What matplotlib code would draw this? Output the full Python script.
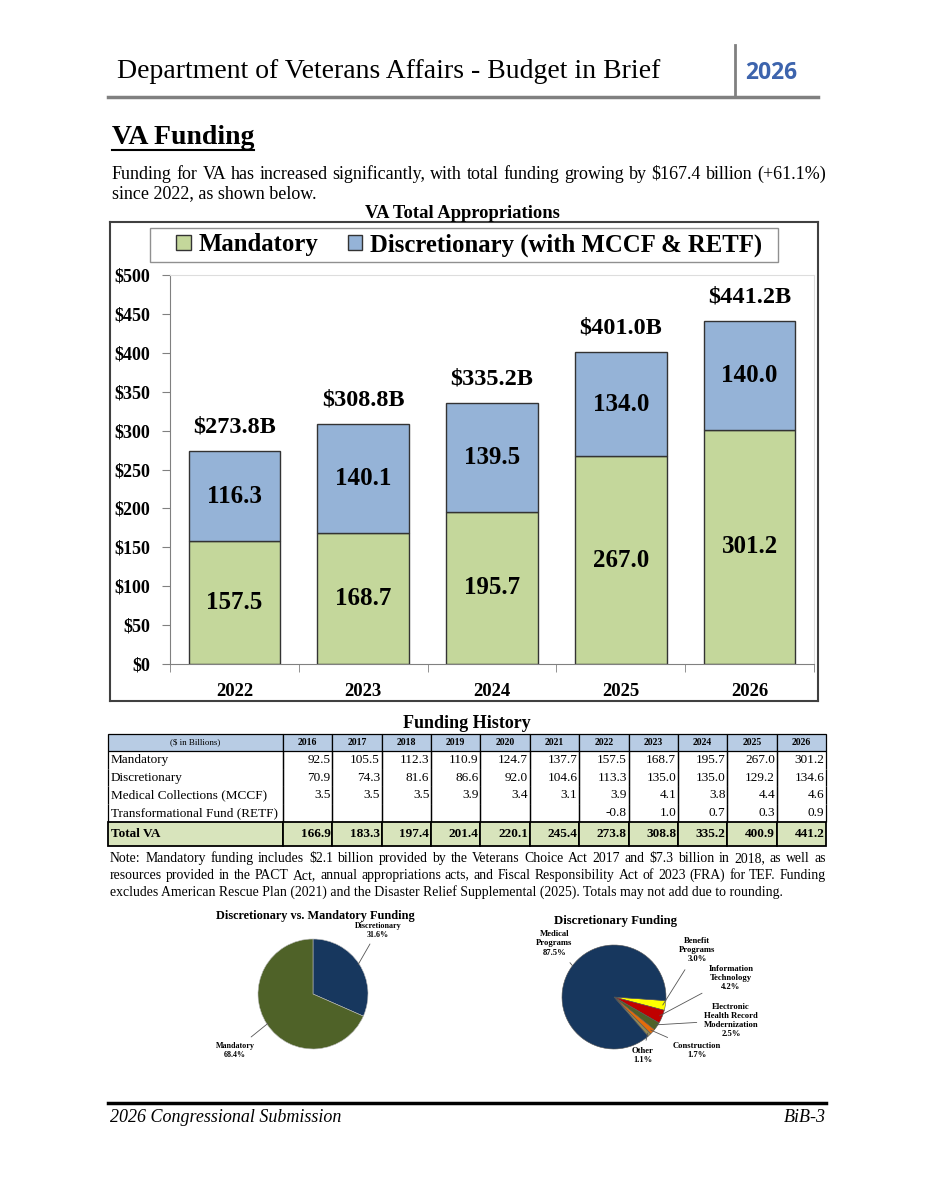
import numpy as np
import matplotlib
matplotlib.use("Agg")
import matplotlib.pyplot as plt
from matplotlib.lines import Line2D
from matplotlib.patches import Rectangle

plt.rcParams['font.family'] = ['Liberation Serif', 'DejaVu Serif']

# bar chart data
years = ['2022', '2023', '2024', '2025', '2026']
mandatory = [157.5, 168.7, 195.7, 267.0, 301.2]
discretionary = [116.3, 140.1, 139.5, 134.0, 140.0]
totals = [273.8, 308.8, 335.2, 401.0, 441.2]

# funding history table
hist_years = ['2016', '2017', '2018', '2019', '2020', '2021', '2022', '2023', '2024', '2025', '2026']
hist_mandatory = ['92.5', '105.5', '112.3', '110.9', '124.7', '137.7', '157.5', '168.7', '195.7', '267.0', '301.2']
hist_discretionary = ['70.9', '74.3', '81.6', '86.6', '92.0', '104.6', '113.3', '135.0', '135.0', '129.2', '134.6']
hist_mccf = ['3.5', '3.5', '3.5', '3.9', '3.4', '3.1', '3.9', '4.1', '3.8', '4.4', '4.6']
hist_retf = ['', '', '', '', '', '', '-0.8', '1.0', '0.7', '0.3', '0.9']
hist_total = ['166.9', '183.3', '197.4', '201.4', '220.1', '245.4', '273.8', '308.8', '335.2', '400.9', '441.2']
row_names = ['Mandatory', 'Discretionary', 'Medical Collections (MCCF)', 'Transformational Fund (RETF)', 'Total VA']

# pie data
split_labels = ['Discretionary', 'Mandatory']
split_pct = [31.6, 68.4]
disc_labels = ['Benefit\nPrograms', 'Information\nTechnology', 'Electronic\nHealth Record\nModernization',
               'Construction', 'Other', 'Medical\nPrograms']
disc_pct = [3.0, 4.2, 2.5, 1.7, 1.1, 87.5]

W, H = 935, 1200
fig = plt.figure(figsize=(W / 100, H / 100), dpi=100)
fig.patch.set_facecolor('white')
renderer = fig.canvas.get_renderer()


def box(x0, y0, x1, y1):
    return [x0 / W, 1 - y1 / H, (x1 - x0) / W, (y1 - y0) / H]


def fx(x):
    return x / W


def fy(y):
    return 1 - y / H


def hline(x0, x1, y, **kw):
    fig.add_artist(Line2D([fx(x0), fx(x1)], [fy(y), fy(y)], transform=fig.transFigure, **kw))


def justify(line, x0, x1, y, size):
    # spread the words so the line fills x0..x1, all on one whole-pixel baseline
    words = line.split(' ')
    base = round(y + 0.3 * size * 100 / 72)
    texts = [fig.text(0, 0, w, fontsize=size, va='bottom') for w in words]
    widths = [t.get_window_extent(renderer).width for t in texts]
    gap = (x1 - x0 - sum(widths)) / (len(words) - 1)
    pos = x0
    for t, w, wd in zip(texts, words, widths):
        fp = t.get_fontproperties()
        d = max(renderer.get_text_width_height_descent(w, fp, ismath=False)[2],
                renderer.get_text_width_height_descent('lp', fp, ismath=False)[2])
        t.set_position((fx(pos), fy(base) - d / H))
        pos += wd + gap


# page header
fig.text(fx(117), fy(71), 'Department of Veterans Affairs - Budget in Brief', fontsize=20, va='center')
fig.text(fx(745), fy(73), '2026', fontsize=16.5, va='center', color='#3d64ad',
         family=['Open Sans', 'DejaVu Sans'], fontweight='bold')
hline(108, 818, 97, color='#808080', lw=2.5)
fig.add_artist(Line2D([fx(735), fx(735)], [fy(45), fy(97)], transform=fig.transFigure, color='#808080', lw=2))

t = fig.text(fx(112), fy(137), 'VA Funding', fontsize=20, fontweight='bold', va='center')
bb = t.get_window_extent(renderer)
hline(112, 112 + bb.width, 150, color='black', lw=1.5)

justify('Funding for VA has increased significantly, with total funding growing by $167.4 billion (+61.1%)',
        112, 826, 174, 13)
fig.text(fx(112), fy(194), 'since 2022, as shown below.', fontsize=13, va='center')
fig.text(fx(462), fy(213), 'VA Total Appropriations', fontsize=13.4, fontweight='bold', ha='center', va='center')

# outer chart frame
frame = fig.add_axes(box(110, 222, 818, 701))
frame.set_xticks([])
frame.set_yticks([])
for s in frame.spines.values():
    s.set_linewidth(1.5)
    s.set_color('#404040')
frame.patch.set_alpha(0)

# stacked bars
ax = fig.add_axes(box(170, 275, 814, 664))
x = np.arange(len(years))
b1 = ax.bar(x, mandatory, width=0.71, color='#c4d79b', edgecolor='#333333', lw=1, label='Mandatory')
b2 = ax.bar(x, discretionary, width=0.71, bottom=mandatory, color='#95b3d7', edgecolor='#333333', lw=1,
            label='Discretionary (with MCCF & RETF)')
for i in range(len(years)):
    ax.text(x[i], mandatory[i] / 2, f'{mandatory[i]:.1f}', ha='center', va='center', fontsize=18, fontweight='bold')
    ax.text(x[i], mandatory[i] + discretionary[i] / 2, f'{discretionary[i]:.1f}', ha='center', va='center',
            fontsize=18, fontweight='bold')
    ax.text(x[i], totals[i] + 31, f'${totals[i]:.1f}B', ha='center', va='center', fontsize=17.5, fontweight='bold')

ax.set_xlim(-0.5, len(years) - 0.5)
ax.set_ylim(0, 500)
ax.set_yticks(np.arange(0, 501, 50))
ax.set_yticklabels([f'${v}' for v in range(0, 501, 50)], fontsize=13, fontweight='bold')
ax.set_xticks(x)
ax.set_xticklabels(years, fontsize=13.5, fontweight='bold')
ax.set_xticks(np.arange(-0.5, len(years), 1), minor=True)
ax.tick_params(axis='x', which='major', length=0, pad=14)
ax.tick_params(axis='x', which='minor', length=6, color='#808080', direction='out')
ax.tick_params(axis='y', length=6, color='#808080', pad=8)
for s in ['left', 'bottom']:
    ax.spines[s].set_color('#808080')
for s in ['top', 'right']:
    ax.spines[s].set_color('#dddddd')
ax.patch.set_alpha(0)

# legend with its own wider frame
fig.legend(handles=[b1, b2], ncol=2, loc='center', bbox_to_anchor=(fx(469), fy(245)),
           prop={'size': 17.8, 'weight': 'bold'}, frameon=False,
           handlelength=0.6, handleheight=0.6, handletextpad=0.3, columnspacing=1.2,
           borderpad=0.2, borderaxespad=0)
fig.add_artist(Rectangle((fx(150), fy(262)), fx(778) - fx(150), fy(228) - fy(262), transform=fig.transFigure,
                         facecolor='none', edgecolor='#909090', lw=1))

# funding history table
fig.text(fx(467), fy(724), 'Funding History', fontsize=13, fontweight='bold', ha='center', va='center')
tax = fig.add_axes(box(108, 734, 826, 846))
tax.axis('off')
rows = [[row_names[0]] + hist_mandatory, [row_names[1]] + hist_discretionary, [row_names[2]] + hist_mccf,
        [row_names[3]] + hist_retf, [row_names[4]] + hist_total]
col_w = [175] + [49.4] * len(hist_years)
tbl = tax.table(cellText=rows, colLabels=['($ in Billions)'] + hist_years, colWidths=col_w,
                bbox=[0, 0, 1, 1], cellLoc='right')
tbl.auto_set_font_size(False)
row_h = [17, 17.5, 17.5, 17.5, 17.5, 24]
for (r, c), cell in tbl.get_celld().items():
    cell.set_height(row_h[r])
    cell.set_linewidth(0.9)
    cell.PAD = 0.015 if c == 0 else 0.035
    txt = cell.get_text()
    if r == 0:
        cell.set_facecolor('#b8cce4')
        txt.set_ha('center')
        cell._loc = 'center'
        txt.set_fontsize(6.5 if c == 0 else 7)
        if c > 0:
            txt.set_fontweight('bold')
    elif r == 5:
        cell.set_facecolor('#d8e4bc')
        txt.set_fontsize(9.5)
        txt.set_fontweight('bold')
        cell.set_linewidth(1.3)
    else:
        cell.visible_edges = 'LR'
        txt.set_fontsize(9.5)
    if c == 0 and r > 0:
        cell._loc = 'left'
        txt.set_ha('left')

note = ['Note: Mandatory funding includes $2.1 billion provided by the Veterans Choice Act 2017 and $7.3 billion in 2018, as well as',
        'resources provided in the PACT Act, annual appropriations acts, and Fiscal Responsibility Act of 2023 (FRA) for TEF. Funding',
        'excludes American Rescue Plan (2021) and the Disaster Relief Supplemental (2025). Totals may not add due to rounding.']
justify(note[0], 110, 826, 858, 9.9)
justify(note[1], 110, 826, 875, 9.9)
fig.text(fx(110), fy(892), note[2], fontsize=9.9, va='center')

# pie: discretionary vs mandatory
fig.text(fx(315), fy(916), 'Discretionary vs. Mandatory Funding', fontsize=8.8, fontweight='bold', ha='center', va='center')
pax = fig.add_axes(box(258, 939, 368, 1049))
wedges, _ = pax.pie(split_pct, colors=['#17375e', '#4f6228'], startangle=90, counterclock=False,
                    wedgeprops={'edgecolor': '#bbbbbb', 'linewidth': 0.4})
pax.set_xlim(-1, 1)
pax.set_ylim(-1, 1)
split_pos = [(1.18, 1.16), (-1.42, -1.02)]
for w, lab, p, pos in zip(wedges, split_labels, split_pct, split_pos):
    ang = np.deg2rad((w.theta1 + w.theta2) / 2)
    pax.annotate(f'{lab}\n{p:.1f}%', xy=(0.98 * np.cos(ang), 0.98 * np.sin(ang)), xytext=pos,
                 ha='center', va='center', fontsize=5.8, fontweight='bold', annotation_clip=False,
                 arrowprops=dict(arrowstyle='-', color='#555555', lw=0.6, shrinkA=2, shrinkB=0))

# pie: discretionary breakdown
fig.text(fx(616), fy(921), 'Discretionary Funding', fontsize=9.2, fontweight='bold', ha='center', va='center')
dax = fig.add_axes(box(562, 945, 666, 1049))
dcolors = ['#ffff00', '#c00000', '#4f6228', '#e46c0a', '#948a54', '#17375e']
wedges2, _ = dax.pie(disc_pct, colors=dcolors, startangle=-4, counterclock=False,
                     wedgeprops={'edgecolor': '#555555', 'linewidth': 0.4})
dax.set_xlim(-1, 1)
dax.set_ylim(-1, 1)
disc_pos = [(1.6, 0.9), (2.25, 0.37), (2.25, -0.45), (1.6, -1.03), (0.55, -1.13), (-1.15, 1.03)]
for w, lab, p, pos in zip(wedges2, disc_labels, disc_pct, disc_pos):
    ang = np.deg2rad((w.theta1 + w.theta2) / 2)
    r = 0.95
    if lab.startswith('Medical'):
        ang = np.deg2rad(143)
        r = 1.0
    dax.annotate(f'{lab}\n{p:.1f}%', xy=(r * np.cos(ang), r * np.sin(ang)), xytext=pos,
                 ha='center', va='center', fontsize=6.2, fontweight='bold', annotation_clip=False,
                 arrowprops=dict(arrowstyle='-', color='#555555', lw=0.6, shrinkA=3, shrinkB=0))

# footer
hline(108, 826, 1103, color='black', lw=2.5)
fig.text(fx(110), fy(1117), '2026 Congressional Submission', fontsize=13, style='italic', va='center')
fig.text(fx(826), fy(1117), 'BiB-3', fontsize=13, style='italic', va='center', ha='right')

fig.savefig('out.png', dpi=100, facecolor='white')
